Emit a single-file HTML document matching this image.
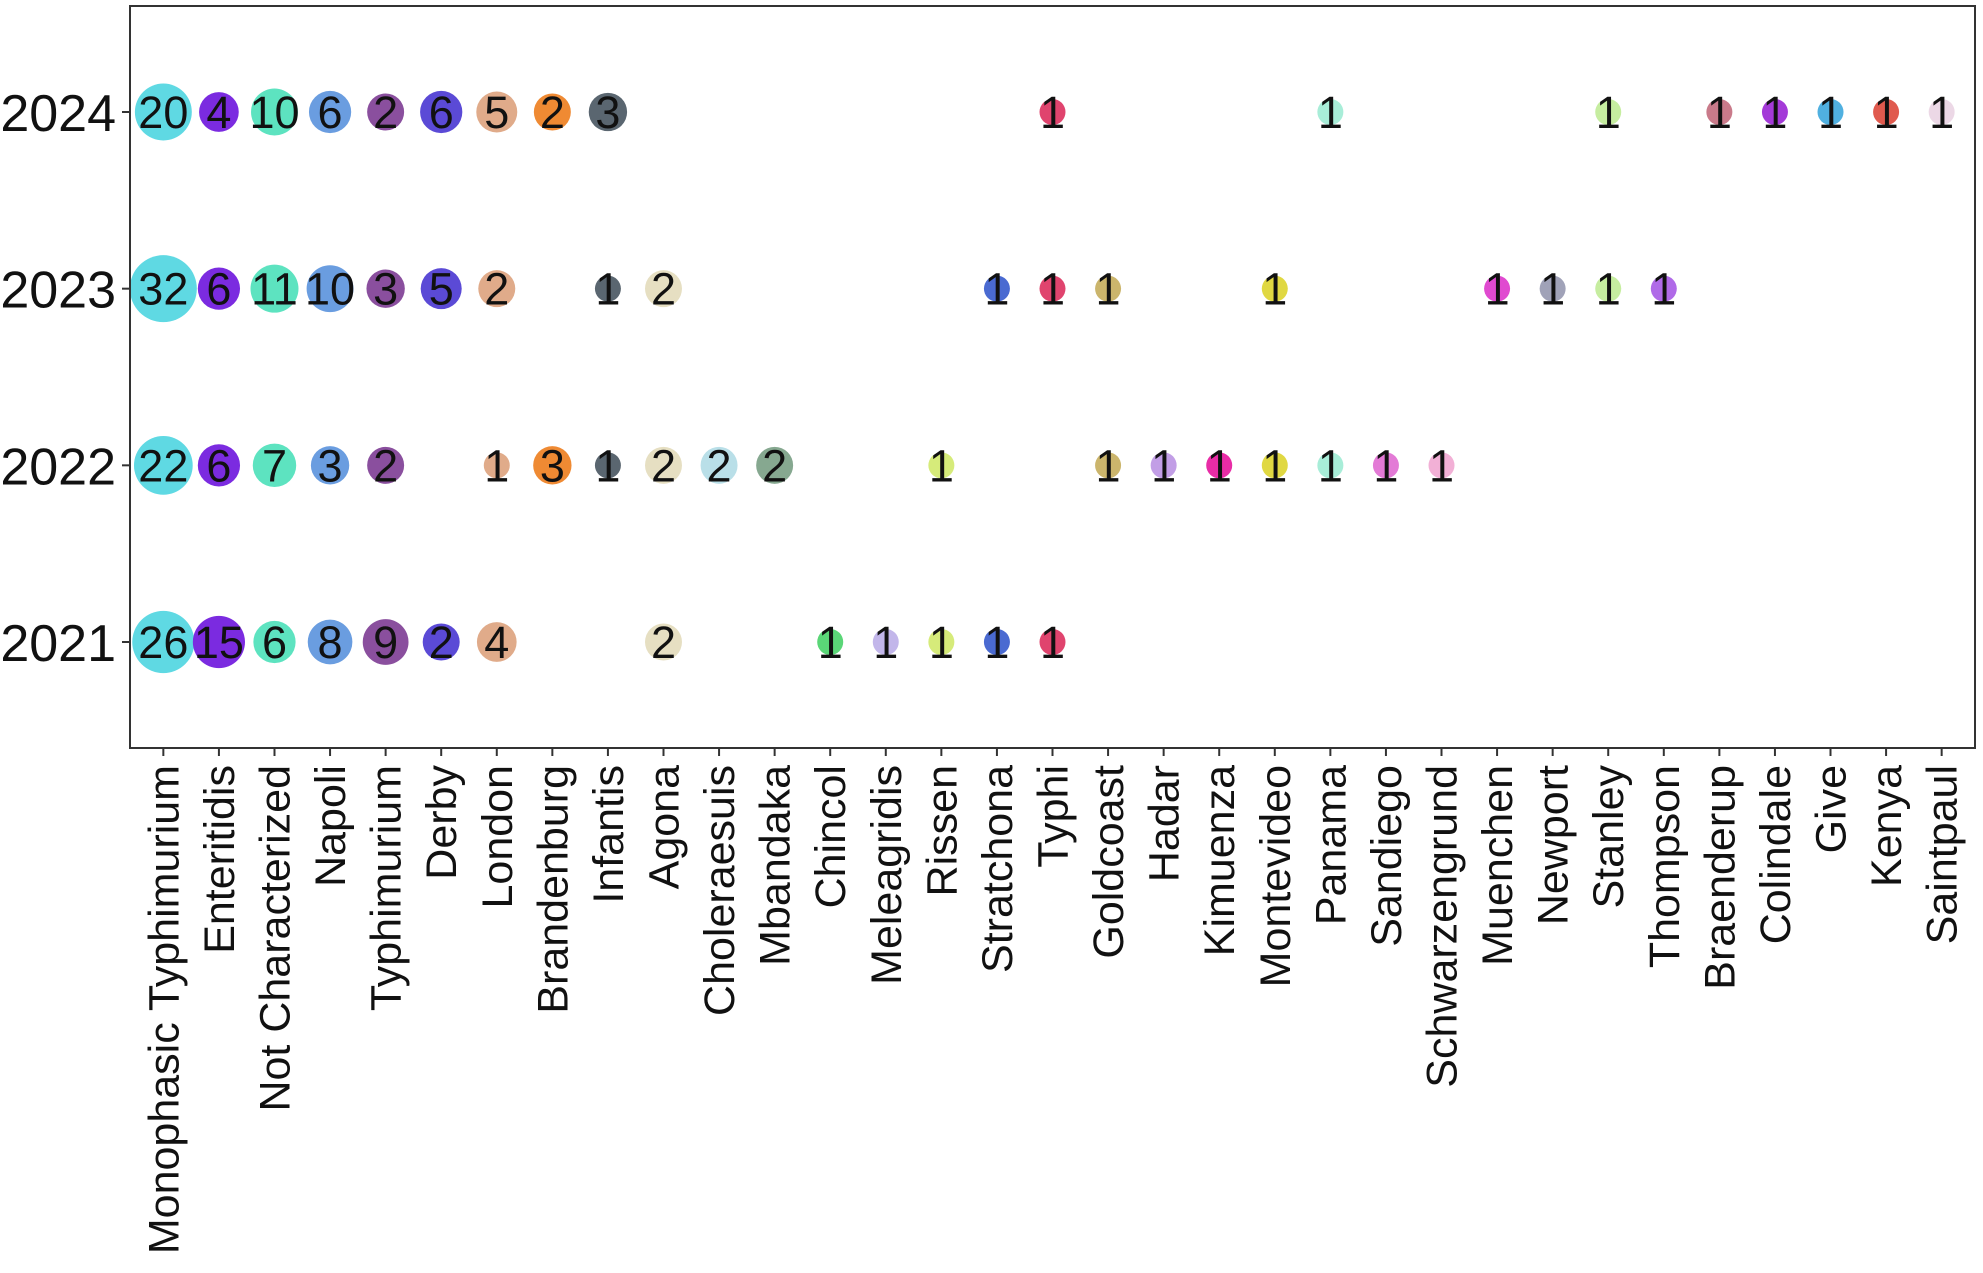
<!DOCTYPE html>
<html><head><meta charset="utf-8">
<style>
html,body{margin:0;padding:0;background:#fff;}
svg{display:block;font-family:"Liberation Sans",Arial,sans-serif;}
</style></head>
<body>
<svg id="chart" width="1983" height="1273" viewBox="0 0 1983 1273" xmlns="http://www.w3.org/2000/svg">
<rect x="0" y="0" width="1983" height="1273" fill="#fff"/>
<g id="marks"></g>
<rect x="130" y="6" width="1845" height="742" fill="none" stroke="#333" stroke-width="2"/>
<g id="axes"></g>
</svg>
<script>
const categories = ["Monophasic Typhimurium","Enteritidis","Not Characterized","Napoli","Typhimurium","Derby","London","Brandenburg","Infantis","Agona","Choleraesuis","Mbandaka","Chincol","Meleagridis","Rissen","Stratchona","Typhi","Goldcoast","Hadar","Kimuenza","Montevideo","Panama","Sandiego","Schwarzengrund","Muenchen","Newport","Stanley","Thompson","Braenderup","Colindale","Give","Kenya","Saintpaul"];
const colors = ["#5fd9e3","#7b2be0","#5de3c0","#6a9de0","#8a4f9e","#5b4ad6","#e0ab8a","#ef8a33","#5a6670","#e6dfc2","#b9dfe8","#86a890","#5ad677","#c2b6ea","#d6eb7a","#4a6ad1","#e0446e","#cbb56c","#c29ee6","#e82ca6","#e0d842","#a8edd8","#e37ad6","#f2b0d6","#e04ad0","#a0a2b8","#c6eda0","#b06ae8","#c97a8a","#a43ad8","#50b0e0","#e05a4e","#ecd8e6"];
const years = ["2024","2023","2022","2021"];
const counts2024 = {"Monophasic Typhimurium":20,"Enteritidis":4,"Not Characterized":10,"Napoli":6,"Typhimurium":2,"Derby":6,"London":5,"Brandenburg":2,"Infantis":3,"Typhi":1,"Panama":1,"Stanley":1,"Braenderup":1,"Colindale":1,"Give":1,"Kenya":1,"Saintpaul":1};
const counts2023 = {"Monophasic Typhimurium":32,"Enteritidis":6,"Not Characterized":11,"Napoli":10,"Typhimurium":3,"Derby":5,"London":2,"Infantis":1,"Agona":2,"Stratchona":1,"Typhi":1,"Goldcoast":1,"Montevideo":1,"Muenchen":1,"Newport":1,"Stanley":1,"Thompson":1};
const counts2022 = {"Monophasic Typhimurium":22,"Enteritidis":6,"Not Characterized":7,"Napoli":3,"Typhimurium":2,"London":1,"Brandenburg":3,"Infantis":1,"Agona":2,"Choleraesuis":2,"Mbandaka":2,"Rissen":1,"Goldcoast":1,"Hadar":1,"Kimuenza":1,"Montevideo":1,"Panama":1,"Sandiego":1,"Schwarzengrund":1};
const counts2021 = {"Monophasic Typhimurium":26,"Enteritidis":15,"Not Characterized":6,"Napoli":8,"Typhimurium":9,"Derby":2,"London":4,"Agona":2,"Chincol":1,"Meleagridis":1,"Rissen":1,"Stratchona":1,"Typhi":1};
const seriesByYear = [counts2024, counts2023, counts2022, counts2021];

const NS="http://www.w3.org/2000/svg";
const L=130,R=1975,T=6,B=748;
const xStep=(R-L)/(categories.length-1+1.2);
function xScale(i){return L+(0.6+i)*xStep;}
const yStep=(B-T)/(years.length-1+1.2);
function yScale(j){return T+(0.6+j)*yStep;}
function rScale(v){return v<2?13:Math.sqrt(290+26*v);}

const marks=document.getElementById('marks');
const axes=document.getElementById('axes');
seriesByYear.forEach((s,j)=>{
  categories.forEach((c,i)=>{
    const v=s[c]; if(!v) return;
    const g=document.createElementNS(NS,'g');
    
    
    const ci=document.createElementNS(NS,'circle');
    ci.setAttribute('cx',xScale(i));ci.setAttribute('cy',yScale(j));
    ci.setAttribute('r',rScale(v));ci.setAttribute('fill',colors[i]);
    
    
    g.appendChild(ci);
    const t=document.createElementNS(NS,'text');
    t.setAttribute('x',xScale(i));t.setAttribute('y',yScale(j)+16);
    t.setAttribute('text-anchor','middle');t.setAttribute('font-size','45');
    t.setAttribute('fill','#111');
    t.textContent=v;
    
    
    g.appendChild(t);
    marks.appendChild(g);
  });
});
years.forEach((y,j)=>{
  const tk=document.createElementNS(NS,'line');
  tk.setAttribute('x1',L-8);tk.setAttribute('x2',L);tk.setAttribute('y1',yScale(j));tk.setAttribute('y2',yScale(j));
  tk.setAttribute('stroke','#333');tk.setAttribute('stroke-width','2');
  
  
  axes.appendChild(tk);
  const t=document.createElementNS(NS,'text');
  t.setAttribute('x',L-14);t.setAttribute('y',yScale(j)+19);
  t.setAttribute('text-anchor','end');t.setAttribute('font-size','52');t.setAttribute('fill','#111');
  t.textContent=y;
  
  
  axes.appendChild(t);
});
categories.forEach((c,i)=>{
  const tk=document.createElementNS(NS,'line');
  tk.setAttribute('x1',xScale(i));tk.setAttribute('x2',xScale(i));tk.setAttribute('y1',B);tk.setAttribute('y2',B+8);
  tk.setAttribute('stroke','#333');tk.setAttribute('stroke-width','2');
  
  
  axes.appendChild(tk);
  const t=document.createElementNS(NS,'text');
  const x=xScale(i)+15,y=B+17;
  t.setAttribute('x',x);t.setAttribute('y',y);
  t.setAttribute('transform','rotate(-90 '+x+' '+y+')');
  t.setAttribute('text-anchor','end');t.setAttribute('font-size','43');t.setAttribute('fill','#111');
  t.textContent=c;
  
  
  axes.appendChild(t);
});
</script>
</body></html>
